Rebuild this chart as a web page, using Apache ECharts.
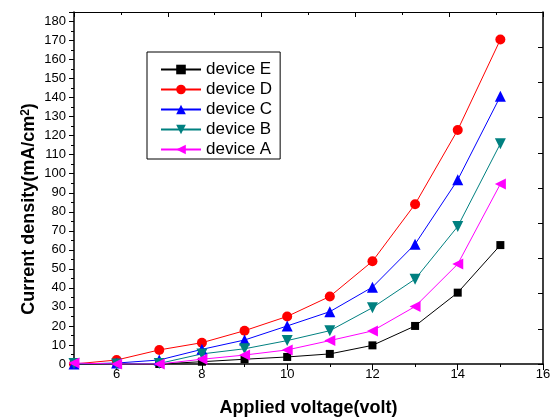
<!DOCTYPE html>
<html>
<head>
<meta charset="utf-8">
<script src="https://cdn.jsdelivr.net/npm/echarts@6/dist/echarts.min.js"></script>
<style>html,body{margin:0;padding:0;background:#fff}#c{width:550px;height:417px}</style>
</head>
<body>
<div id="c"></div>
<script>
var voltage = [5, 6, 7, 8, 9, 10, 11, 12, 13, 14, 15];
var deviceE = [0, 0, 0, 1.2, 2.5, 3.7, 5.3, 9.8, 20, 37.5, 62.5];
var deviceD = [0, 2.1, 7.4, 11.2, 17.5, 25, 35.5, 54, 84, 123, 170.5];
var deviceC = [0, 0.5, 2.1, 7.7, 12.6, 20, 27.5, 40.4, 63, 96.8, 140.7];
var deviceB = [0.3, 0, 0.3, 5.3, 8, 12.3, 17.5, 29.6, 44.6, 72.3, 115.8];
var deviceA = [0.5, 0, 0, 2.5, 4.7, 7.4, 12.3, 17.4, 30.2, 52.5, 94.6];
var xTickLabels = ['5','6','7','8','9','10','11','12','13','14','15','16'];
var seriesNames = ['device E', 'device D', 'device C', 'device B', 'device A'];

var FONT = 'Arial, "Liberation Sans", sans-serif';
function pairs(ys){ return voltage.map(function(x,i){ return [x, ys[i]]; }); }
function even(idx){ return idx % 2 === 1; }

var chart = echarts.init(document.getElementById('c'), null, {renderer:'canvas'});
var mk = function(name, data, color, symbol, size, rot){
  return {
    name: name, type: 'line', data: pairs(data), xAxisIndex: 0, yAxisIndex: 0,
    symbol: symbol, symbolSize: size, symbolRotate: rot || 0,
    showAllSymbol: true, animation: false,
    lineStyle: {color: color, width: 1},
    itemStyle: {color: color, borderWidth: 0}
  };
};
chart.setOption({
  animation: false,
  grid: {left: 74, right: 7, top: 12, bottom: 53, containLabel: false, outerBoundsMode: 'none'},
  legend: {
    orient: 'vertical', left: 147, top: 52,
    data: seriesNames,
    padding: [9, 8, 1, 13],
    borderColor: '#000', borderWidth: 1, borderRadius: 0,
    itemWidth: 40, itemHeight: 12, itemGap: 3,
    textStyle: {fontFamily: FONT, fontSize: 17, color: '#000'}
  },
  xAxis: [
    {type: 'value', min: 5, max: 16, interval: 1, position: 'bottom',
     axisLine: {lineStyle: {color: '#000', width: 1.5}},
     axisTick: {inside: false, length: 3, lineStyle: {color: '#000', width: 1}},
     axisLabel: {show: false}, splitLine: {show: false}},
    {type: 'category', data: xTickLabels, boundaryGap: false, position: 'bottom',
     axisLine: {show: false},
     axisTick: {inside: false, length: 6, interval: even, lineStyle: {color: '#000', width: 1}},
     axisLabel: {interval: even, margin: 4, fontFamily: FONT, fontSize: 13, color: '#000'},
     name: 'Applied voltage(volt)', nameLocation: 'middle', nameGap: 35, nameMoveOverlap: false,
     nameTextStyle: {fontFamily: FONT, fontSize: 18, fontWeight: 'bold', color: '#000'},
     splitLine: {show: false}},
    {type: 'value', min: 5, max: 16, interval: 2.2, position: 'top',
     axisLine: {lineStyle: {color: '#000', width: 1}},
     axisTick: {inside: true, length: 5, lineStyle: {color: '#000'}},
     minorTick: {show: true, splitNumber: 2, length: 3, lineStyle: {color: '#000'}},
     axisLabel: {show: false}, splitLine: {show: false}}
  ],
  yAxis: [
    {type: 'value', min: 0, max: 185, interval: 10, position: 'left',
     axisLine: {show: true, lineStyle: {color: '#000', width: 1.5}},
     axisTick: {show: true, inside: false, length: 5, lineStyle: {color: '#000'}},
     minorTick: {show: true, splitNumber: 2, length: 3, lineStyle: {color: '#000'}},
     axisLabel: {showMaxLabel: false, fontFamily: FONT, fontSize: 13, color: '#000', margin: 8},
     splitLine: {show: false},
     name: '{a|Current density(mA/cm}{s|2}{a|)}', nameLocation: 'middle', nameGap: 36, nameMoveOverlap: false,
     nameTextStyle: {padding: [0, 42, 0, 0],
       rich: {a: {fontFamily: FONT, fontSize: 18, fontWeight: 'bold', color: '#000', lineHeight: 18, verticalAlign: 'bottom'},
              s: {fontFamily: FONT, fontSize: 12, fontWeight: 'bold', color: '#000', lineHeight: 12, verticalAlign: 'top', padding: [0, 0, 10, 0]}}}},
    {type: 'value', min: 0, max: 185, interval: 18.5, position: 'right',
     axisLine: {show: true, lineStyle: {color: '#000', width: 1.5}},
     axisTick: {show: true, inside: true, length: 5, lineStyle: {color: '#000'}},
     axisLabel: {show: false}, splitLine: {show: false}}
  ],
  series: [
    mk('device E', deviceE, '#000000', 'rect', 8),
    mk('device D', deviceD, '#ff0000', 'circle', 10),
    mk('device C', deviceC, '#0000ff', 'triangle', 11),
    mk('device B', deviceB, '#008080', 'triangle', 11, 180),
    mk('device A', deviceA, '#ff00ff', 'triangle', 11, 90)
  ]
});
</script>
</body>
</html>
